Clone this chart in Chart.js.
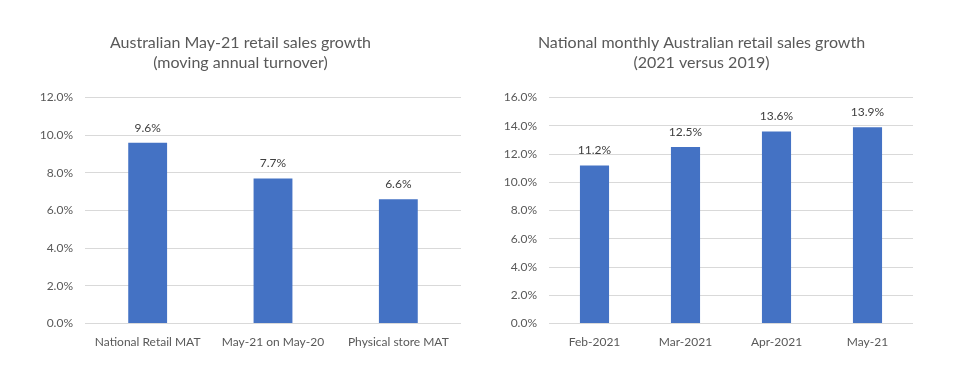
<!DOCTYPE html>
<html>
<head>
<meta charset="utf-8">
<script src="https://cdn.jsdelivr.net/npm/chart.js@4.4.0/dist/chart.umd.min.js"></script>
<style>
  body { margin: 0; background: #fff; }
  #wrap { position: relative; width: 961px; height: 370px; }
  .box { position: absolute; top: 0; height: 370px; }
</style>
</head>
<body>
<div id="wrap">
  <div class="box" style="left:0;width:480px"><canvas id="chartLeft"></canvas></div>
  <div class="box" style="left:480px;width:481px"><canvas id="chartRight"></canvas></div>
</div>
<script>
const mat_labels = ['National Retail MAT', 'May-21 on May-20', 'Physical store MAT'];
const mat_values = [9.6, 7.7, 6.6];

const month_labels = ['Feb-2021', 'Mar-2021', 'Apr-2021', 'May-21'];
const month_values = [11.2, 12.5, 13.6, 13.9];

const fontFamily = 'Lato, "Open Sans", sans-serif';
const pct = v => Number(v).toFixed(1) + '%';

// draws the value above each bar
const valueLabels = {
  id: 'valueLabels',
  afterDatasetsDraw(chart) {
    const c = chart.ctx;
    const meta = chart.getDatasetMeta(0);
    c.save();
    c.font = '12px ' + fontFamily;
    c.fillStyle = '#404040';
    c.textAlign = 'center';
    c.textBaseline = 'bottom';
    meta.data.forEach((bar, i) => {
      c.fillText(pct(chart.data.datasets[0].data[i]), bar.x, bar.y - 9);
    });
    c.restore();
  }
};

function makeChart(id, labels, values, title, max, barPct, pad, axisWidth) {
  return new Chart(document.getElementById(id), {
    type: 'bar',
    data: {
      labels: labels,
      datasets: [{
        data: values,
        backgroundColor: '#4472C4',
        categoryPercentage: 1,
        barPercentage: barPct
      }]
    },
    options: {
      responsive: true,
      maintainAspectRatio: false,
      animation: false,
      layout: { padding: pad },
      plugins: {
        legend: { display: false },
        tooltip: { enabled: false },
        title: {
          display: true,
          text: title,
          color: '#595959',
          font: { size: 16, family: fontFamily, weight: 'normal', lineHeight: 1.3 },
          padding: { top: 32, bottom: 24 }
        }
      },
      scales: {
        x: {
          grid: { display: false, drawTicks: false },
          border: { display: false },
          ticks: { color: '#595959', font: { size: 12, family: fontFamily }, padding: 11, maxRotation: 0 }
        },
        y: {
          min: 0,
          max: max,
          afterFit(scale) { scale.width = axisWidth; },
          grid: { color: '#d9d9d9', drawTicks: false },
          border: { display: false },
          ticks: {
            stepSize: 2,
            color: '#595959',
            font: { size: 12, family: fontFamily },
            padding: 12,
            callback: v => pct(v)
          }
        }
      }
    },
    plugins: [valueLabels]
  });
}

makeChart('chartLeft', mat_labels, mat_values,
  ['Australian May-21 retail sales growth', '(moving annual turnover)'],
  12, 0.31, { left: 20, right: 19, bottom: 10, top: 0 }, 65);

makeChart('chartRight', month_labels, month_values,
  ['National monthly Australian retail sales growth', '(2021 versus 2019)'],
  16, 0.32, { left: 10, right: 48, bottom: 10, top: 0 }, 59);
</script>
</body>
</html>
